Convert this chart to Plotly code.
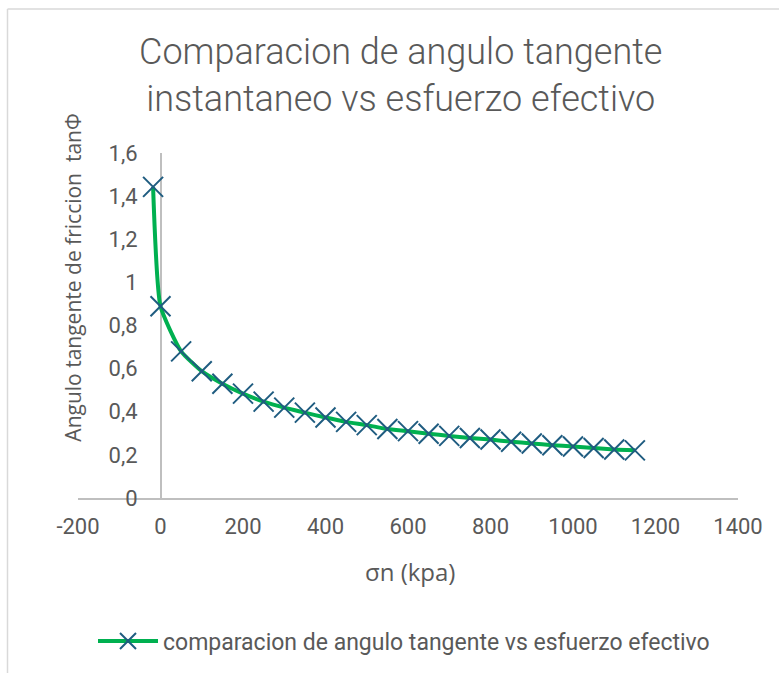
import plotly.graph_objects as go

sigma_n = [-18, 0, 50, 100, 150, 200, 250, 300, 350, 400, 450, 500, 550, 600,
           650, 700, 750, 800, 850, 900, 950, 1000, 1050, 1100, 1150]
tan_phi = [1.443, 0.889, 0.680, 0.588, 0.530, 0.484, 0.447, 0.419, 0.396, 0.373,
           0.353, 0.338, 0.320, 0.310, 0.298, 0.288, 0.278, 0.271, 0.261, 0.253,
           0.245, 0.239, 0.232, 0.225, 0.221]

x_ticks = [-200, 0, 200, 400, 600, 800, 1000, 1200, 1400]
x_tick_text = ["-200", "0", "200", "400", "600", "800", "1000", "1200", "1400"]
y_ticks = [0, 0.2, 0.4, 0.6, 0.8, 1.0, 1.2, 1.4, 1.6]
y_tick_text = ["0", "0,2", "0,4", "0,6", "0,8", "1", "1,2", "1,4", "1,6"]

title_text = "Comparacion de angulo tangente<br>instantaneo vs esfuerzo efectivo"
series_name = "comparacion de angulo tangente vs esfuerzo efectivo"
x_title = "σn (kpa)"
y_title = "Angulo tangente de friccion  tanΦ"

GREY = "#595959"
AXIS = "#bfbfbf"
W, H = 779, 673
L, R, T, B = 78, 738, 153, 499

def px_x(p):
    return (p - L) / (R - L)

def px_y(p):
    return (B - p) / (B - T)

fig = go.Figure()
fig.add_trace(go.Scatter(
    x=sigma_n, y=tan_phi, mode="lines+markers", name=series_name,
    line=dict(color="#00b050", width=4, shape="spline", smoothing=0.5),
    marker=dict(symbol="x-thin", size=20, line=dict(color="#1f5c80", width=2)),
))

fig.update_layout(
    width=W, height=H,
    margin=dict(l=L, r=W - R, t=T, b=H - B, pad=0),
    paper_bgcolor="white", plot_bgcolor="white",
    font=dict(family="Roboto", color=GREY),
    showlegend=True,
    legend=dict(orientation="h", x=px_x(404), xanchor="center", y=px_y(641), yanchor="middle",
                font=dict(family="Roboto", size=23, color=GREY), itemwidth=60),
    xaxis=dict(range=[-200, 1400], tickvals=x_ticks, ticktext=x_tick_text, showgrid=False,
               zeroline=True, zerolinecolor=AXIS, zerolinewidth=1.5, showline=True,
               linecolor=AXIS, linewidth=1.5,
               tickfont=dict(family="Roboto", size=22, color=GREY),
               ticks="outside", ticklen=8, tickcolor="rgba(0,0,0,0)"),
    yaxis=dict(range=[0, 1.6], tickvals=y_ticks, ticktext=y_tick_text, showgrid=False,
               zeroline=False, showline=False, anchor="free", position=px_x(160),
               tickfont=dict(family="Roboto", size=22, color=GREY),
               ticks="outside", ticklen=18, tickcolor="rgba(0,0,0,0)"),
)

fig.add_annotation(text=title_text, xref="paper", yref="paper", x=px_x(400), y=px_y(75),
                   showarrow=False, xanchor="center", yanchor="middle",
                   font=dict(family="Roboto", size=36, color=GREY, weight=300))
fig.add_annotation(text=x_title, xref="paper", yref="paper", x=px_x(410), y=px_y(573),
                   showarrow=False, xanchor="center", yanchor="middle",
                   font=dict(family="Open Sans", size=24, color=GREY))
fig.add_annotation(text=y_title, xref="paper", yref="paper", x=px_x(73), y=px_y(278),
                   showarrow=False, xanchor="center", yanchor="middle", textangle=-90,
                   font=dict(family="Open Sans", size=21, color=GREY))

# chart border (top and left edges visible)
fig.add_shape(type="line", xref="paper", yref="paper", x0=px_x(7.5), x1=px_x(W + 5),
              y0=px_y(8.5), y1=px_y(8.5), line=dict(color="#d9d9d9", width=1.5))
fig.add_shape(type="line", xref="paper", yref="paper", x0=px_x(7.5), x1=px_x(7.5),
              y0=px_y(8.5), y1=px_y(H + 5), line=dict(color="#d9d9d9", width=1.5))

fig.write_html("out.html")
